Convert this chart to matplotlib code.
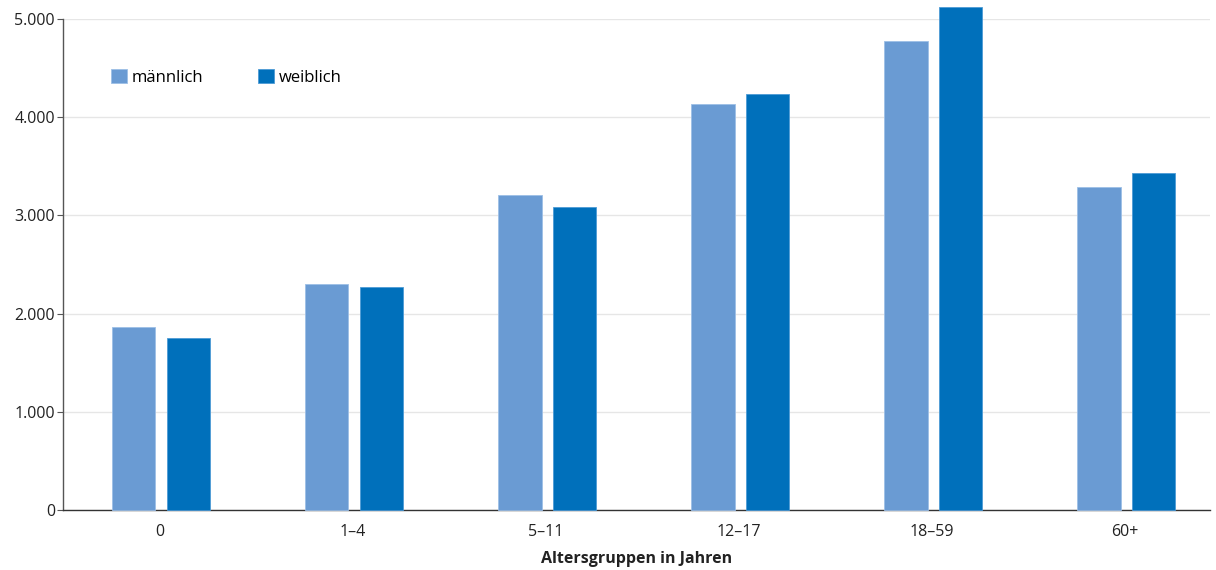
import matplotlib
matplotlib.use("Agg")
import matplotlib.pyplot as plt
import numpy as np

categories = ["0", "1–4", "5–11", "12–17", "18–59", "60+"]
maennlich = [1860, 2300, 3210, 4130, 4775, 3290]
weiblich = [1755, 2270, 3085, 4230, 5115, 3425]
yticks = [0, 1000, 2000, 3000, 4000, 5000]
ytick_labels = ["0", "1.000", "2.000", "3.000", "4.000", "5.000"]

plt.rcParams['font.family'] = ['Open Sans', 'DejaVu Sans']

c_m = "#6a9bd3"
c_w = "#0070bb"

fig = plt.figure(figsize=(12.16, 5.70), dpi=100)
ax = fig.add_axes([0.052, 0.105, 0.943, 0.8625])

x = np.arange(len(categories))
bw = 0.225
ax.bar(x - 0.135, maennlich, bw, color=c_m, edgecolor="#9dbfe6", linewidth=0.6, clip_on=False, zorder=3, label="männlich")
ax.bar(x + 0.148, weiblich, bw, color=c_w, edgecolor="#4d9bd6", linewidth=0.6, clip_on=False, zorder=3, label="weiblich")

ax.set_xlim(-0.5, 5.44)
ax.set_ylim(0, 5000)
ax.set_yticks(yticks)
ax.set_yticklabels(ytick_labels)
ax.set_xticks(x)
ax.set_xticklabels(categories)
ax.tick_params(axis='x', length=0, pad=10, labelsize=11.5, colors="#222222")
ax.tick_params(axis='y', length=4, width=0.8, color="#555555", pad=2, labelsize=11.5, labelcolor="#222222")
ax.yaxis.grid(True, color="#e6e6e6", linewidth=1, zorder=0)
ax.set_axisbelow(True)
for s in ["top", "right"]:
    ax.spines[s].set_visible(False)
ax.spines["left"].set_color("#555555")
ax.spines["bottom"].set_color("#333333")
ax.spines["left"].set_linewidth(1)
ax.spines["bottom"].set_linewidth(1)

ax.set_xlabel("Altersgruppen in Jahren", fontweight="bold", fontsize=11.5, labelpad=8, color="#222222")

leg = ax.legend(loc="upper left", bbox_to_anchor=(0.0285, 0.928), ncol=2, frameon=False,
                fontsize=12, handlelength=0.95, handleheight=0.95, handletextpad=0.3,
                columnspacing=3.3)

fig.savefig("out.png", dpi=100)
